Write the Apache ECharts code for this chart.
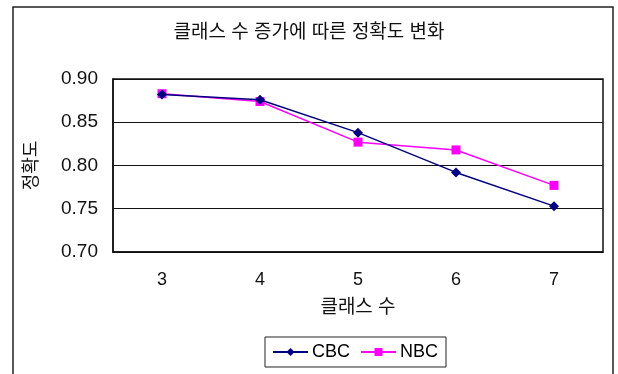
<!DOCTYPE html>
<html>
<head>
<meta charset="utf-8">
<script src="https://cdn.jsdelivr.net/npm/echarts@6/dist/echarts.min.js"></script>
<style>
  html, body { margin: 0; padding: 0; background: #fff; }
  #chart { width: 618px; height: 374px; }
</style>
</head>
<body>
<div id="chart"></div>
<script>
// Accuracy versus number of classes, two classifiers
const classCounts = ['3', '4', '5', '6', '7'];
const cbcAccuracy = [0.882, 0.876, 0.838, 0.792, 0.753];
const nbcAccuracy = [0.883, 0.874, 0.827, 0.818, 0.777];
const yTicks = { min: 0.70, max: 0.90, step: 0.05 };

const FONT = "'Liberation Sans', 'Noto Sans CJK KR', sans-serif";
const chart = echarts.init(document.getElementById('chart'), null, { renderer: 'canvas' });

chart.setOption({
  animation: false,
  backgroundColor: '#fff',
  textStyle: { fontFamily: FONT, color: '#000' },
  graphic: [{
    type: 'rect',
    shape: { x: 13, y: 7, width: 600, height: 420 },
    style: { fill: 'none', stroke: '#222', lineWidth: 1.5 },
    z: 100
  }],
  title: {
    text: '클래스 수 증가에 따른 정확도 변화',
    left: 'center',
    top: 18,
    textStyle: { fontFamily: FONT, fontSize: 19, fontWeight: 'normal', color: '#111' }
  },
  legend: {
    left: 265,
    top: 337,
    padding: [6, 8, 6, 7],
    borderColor: '#222',
    borderWidth: 1,
    itemWidth: 35,
    itemHeight: 10,
    itemGap: 10,
    textStyle: { fontFamily: FONT, fontSize: 18, color: '#000', padding: [0, 0, 0, -1] },
    data: ['CBC', 'NBC']
  },
  grid: {
    left: 113, right: 15, top: 79, bottom: 122,
    show: true, borderColor: '#111', borderWidth: 1.5, backgroundColor: '#fff'
  },
  xAxis: {
    type: 'category',
    data: classCounts,
    boundaryGap: true,
    name: '클래스 수',
    nameLocation: 'middle',
    nameGap: 46,
    nameTextStyle: { fontFamily: FONT, fontSize: 19, color: '#111' },
    axisLine: { lineStyle: { color: '#111', width: 1.5 } },
    axisTick: { inside: true, length: 6, lineStyle: { color: '#111' } },
    axisLabel: { fontFamily: FONT, fontSize: 18, color: '#111', margin: 19 },
    splitLine: { show: false }
  },
  yAxis: {
    type: 'value',
    min: yTicks.min,
    max: yTicks.max,
    interval: yTicks.step,
    name: '정확도',
    nameLocation: 'middle',
    nameRotate: 90,
    nameGap: 72,
    nameTextStyle: { fontFamily: FONT, fontSize: 18, color: '#111' },
    axisLine: { show: true, lineStyle: { color: '#111', width: 1.5 } },
    axisTick: { show: false },
    axisLabel: {
      fontFamily: FONT, fontSize: 19, color: '#111', margin: 15,
      formatter: v => v.toFixed(2)
    },
    splitLine: { show: true, lineStyle: { color: '#111', width: 1 } }
  },
  series: [
    {
      name: 'CBC',
      type: 'line',
      data: cbcAccuracy,
      symbol: 'diamond',
      symbolSize: 10,
      color: '#000080',
      lineStyle: { color: '#000080', width: 1.5 },
      itemStyle: { color: '#000080' },
      z: 3
    },
    {
      name: 'NBC',
      type: 'line',
      data: nbcAccuracy,
      symbol: 'rect',
      symbolSize: 9,
      color: '#ff00ff',
      lineStyle: { color: '#ff00ff', width: 1.5 },
      itemStyle: { color: '#ff00ff' },
      z: 2
    }
  ]
});
</script>
</body>
</html>
